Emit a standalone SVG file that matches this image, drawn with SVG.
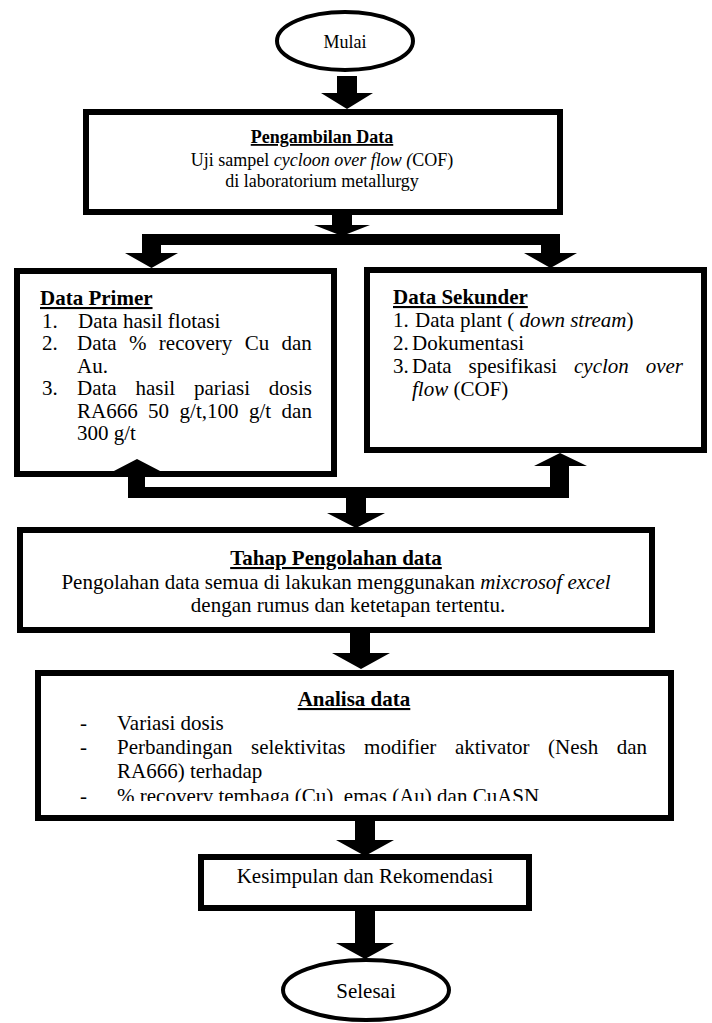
<svg xmlns="http://www.w3.org/2000/svg" width="712" height="1023" viewBox="0 0 712 1023" font-family="'Liberation Serif', 'Times New Roman', serif">
<style>
text{font-family:'Liberation Serif','Times New Roman',serif;fill:#000}
.box{fill:#fff;stroke:#000;stroke-width:6}
.oval{fill:#fff;stroke:#000;stroke-width:4}
.t18{font-size:18px}
.t21{font-size:21px}
.h{font-weight:bold;text-decoration:underline}
.i{font-style:italic}
.c{text-anchor:middle}
.arr{fill:#000;stroke:none}
</style>
<defs>
<clipPath id="clipA"><rect x="40" y="673" width="630" height="128"/></clipPath>
</defs>
<rect width="712" height="1023" fill="#fff"/>

<g id="mulai">
<ellipse class="oval" cx="345" cy="41" rx="68" ry="29"/>
<text class="t18 c" x="345" y="48">Mulai</text>
</g>

<g id="pengambilan">
<rect class="box" x="86" y="112" width="474" height="100"/>
<text class="t18 c h" x="322" y="143">Pengambilan Data</text>
<text class="t18 c" x="322" y="166">Uji sampel <tspan class="i">cycloon over flow (</tspan>COF)</text>
<text class="t18 c" x="322" y="187">di laboratorium metallurgy</text>
</g>

<g id="data-primer">
<rect class="box" x="17" y="271" width="317" height="203"/>
<text class="t21 h" x="40" y="305">Data Primer</text>
<text class="t21" x="42" y="327.5">1.</text>
<text class="t21" x="78" y="327.5">Data hasil flotasi</text>
<text class="t21" x="42" y="350">2.</text>
<text class="t21" x="77" y="350" word-spacing="7.1">Data % recovery Cu dan</text>
<text class="t21" x="77" y="372.5">Au.</text>
<text class="t21" x="42" y="395">3.</text>
<text class="t21" x="77" y="395" word-spacing="13.6">Data hasil pariasi dosis</text>
<text class="t21" x="77" y="417.5" word-spacing="5.2">RA666 50 g/t,100 g/t dan</text>
<text class="t21" x="77" y="440">300 g/t</text>
</g>

<g id="data-sekunder">
<rect class="box" x="367" y="270" width="337" height="180"/>
<text class="t21 h" x="393" y="304">Data Sekunder</text>
<text class="t21" x="393" y="327">1.</text>
<text class="t21" x="415" y="327">Data plant ( <tspan class="i">down stream</tspan>)</text>
<text class="t21" x="393" y="350">2.</text>
<text class="t21" x="412" y="350">Dokumentasi</text>
<text class="t21" x="393" y="373">3.</text>
<text class="t21" x="412" y="373" word-spacing="11.6">Data spesifikasi <tspan class="i">cyclon over</tspan></text>
<text class="t21" x="412" y="396"><tspan class="i">flow</tspan> (COF)</text>
</g>

<g id="tahap-pengolahan">
<rect class="box" x="20" y="530" width="632" height="100"/>
<text class="t21 c h" x="336" y="565">Tahap Pengolahan data</text>
<text class="t21 c" x="336" y="589">Pengolahan data semua di lakukan menggunakan <tspan class="i">mixcrosof excel</tspan></text>
<text class="t21 c" x="348" y="612">dengan rumus dan ketetapan tertentu.</text>
</g>

<g id="analisa-data">
<rect class="box" x="38" y="673" width="633" height="145"/>
<text class="t21 c h" x="354" y="706">Analisa data</text>
<text class="t21" x="80" y="730">-</text>
<text class="t21" x="117" y="730">Variasi dosis</text>
<text class="t21" x="80" y="754">-</text>
<text class="t21" x="117" y="754" word-spacing="13.3">Perbandingan selektivitas modifier aktivator (Nesh dan</text>
<text class="t21" x="117" y="778">RA666) terhadap</text>
<g clip-path="url(#clipA)">
<text class="t21" x="80" y="803">-</text>
<text class="t21" x="117" y="803">% recovery tembaga (Cu), emas (Au) dan CuASN</text>
</g>
</g>

<g id="kesimpulan">
<rect class="box" x="201" y="857" width="328" height="51"/>
<text class="t21 c" x="365" y="883">Kesimpulan dan Rekomendasi</text>
</g>

<g id="selesai">
<ellipse class="oval" cx="366" cy="990" rx="83" ry="30"/>
<text class="t21 c" x="366" y="998">Selesai</text>
</g>

<g id="connectors" class="arr">
<polygon points="337,76 357,76 357,93 373,93 347,109 321,93 337,93"/>
<polygon points="332,212 352,212 352,225 370,225 342,236 314,225 332,225"/>
<rect x="142" y="234" width="418" height="11"/>
<polygon points="142,245 161,245 161,253 178,253 151.5,268 125,253 142,253"/>
<polygon points="541,245 560,245 560,253 577,253 550.5,268 524,253 541,253"/>
<polygon points="137,459 162,472 145,472 145,493 128,493 128,472 112,472"/>
<rect x="128" y="487" width="441" height="11"/>
<polygon points="560,453 587,466 569,466 569,498 550,498 550,466 534,466"/>
<polygon points="346,498 366,498 366,513 385,513 356,528 327,513 346,513"/>
<polygon points="350,633 370,633 370,653 390,653 361,669 332,653 350,653"/>
<polygon points="355,821 375,821 375,840 394,840 365,856 336,840 355,840"/>
<polygon points="355,911 375,911 375,943 394,943 365,959 336,943 355,943"/>
</g>
</svg>
